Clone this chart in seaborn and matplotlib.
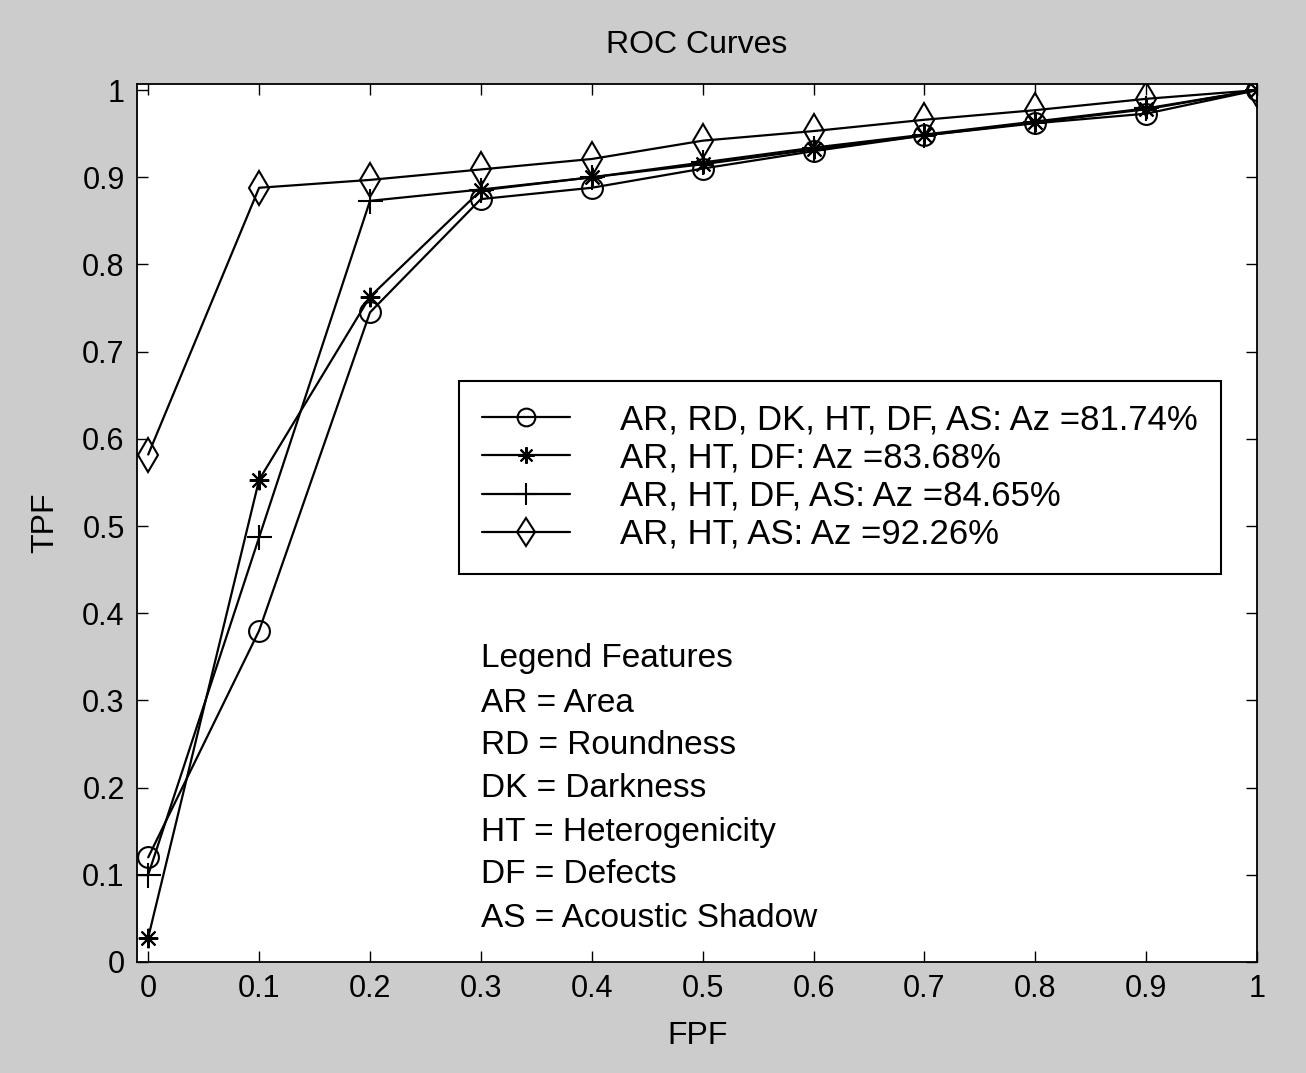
import numpy as np
import pandas as pd
import matplotlib
matplotlib.use('Agg')
import matplotlib.pyplot as plt
import seaborn as sns

# data
fpf = [0, 0.1, 0.2, 0.3, 0.4, 0.5, 0.6, 0.7, 0.8, 0.9, 1.0]
tpf_all = [0.12, 0.38, 0.745, 0.875, 0.888, 0.91, 0.93, 0.948, 0.962, 0.973, 1.0]
tpf_ar_ht_df = [0.028, 0.553, 0.763, 0.885, 0.9, 0.915, 0.932, 0.948, 0.963, 0.978, 1.0]
tpf_ar_ht_df_as = [0.1, 0.487, 0.873, 0.886, 0.9, 0.917, 0.934, 0.949, 0.964, 0.979, 1.0]
tpf_ar_ht_as = [0.582, 0.888, 0.897, 0.909, 0.921, 0.942, 0.953, 0.966, 0.977, 0.99, 1.0]

labels = ['AR, RD, DK, HT, DF, AS: Az =81.74%',
          'AR, HT, DF: Az =83.68%',
          'AR, HT, DF, AS: Az =84.65%',
          'AR, HT, AS: Az =92.26%']
markers = ['o', (8, 2, 0), '+', 'd']
marker_sizes = [15, 14, 18, 17]

features = ['Legend Features', 'AR = Area', 'RD = Roundness', 'DK = Darkness',
            'HT = Heterogenicity', 'DF = Defects', 'AS = Acoustic Shadow']
feature_y = [0.348, 0.297, 0.248, 0.199, 0.149, 0.100, 0.050]

sns.set_style('ticks')
plt.rcParams['font.family'] = ['Liberation Sans', 'DejaVu Sans']
plt.rcParams['text.color'] = 'black'
plt.rcParams['axes.labelcolor'] = 'black'
plt.rcParams['xtick.color'] = 'black'
plt.rcParams['ytick.color'] = 'black'
plt.rcParams['xtick.direction'] = 'in'
plt.rcParams['ytick.direction'] = 'in'

fig = plt.figure(figsize=(13.06, 10.73), dpi=100, facecolor='#cccccc')
ax = fig.add_axes([0.105, 0.1035, 0.8575, 0.8182])
ax.set_facecolor('white')

series = [tpf_all, tpf_ar_ht_df, tpf_ar_ht_df_as, tpf_ar_ht_as]
for tpf, lab, mk, ms in zip(series, labels, markers, marker_sizes):
    df = pd.DataFrame({'FPF': fpf, 'TPF': tpf})
    sns.lineplot(data=df, x='FPF', y='TPF', ax=ax, color='black', linewidth=1.6,
                 marker=mk, markersize=ms, markerfacecolor='none',
                 markeredgecolor='black', markeredgewidth=1.5, label=lab)

ax.set_xlim(-0.01, 1.0)
ax.set_ylim(0, 1.007)
ticks = np.round(np.arange(0, 1.01, 0.1), 1)
ticklabels = ['0'] + ['%g' % t for t in ticks[1:-1]] + ['1']
ax.set_xticks(ticks)
ax.set_xticklabels(ticklabels)
ax.set_yticks(ticks)
ax.set_yticklabels(ticklabels)
ax.tick_params(axis='both', which='both', labelsize=22, length=8, width=1.0,
               top=True, right=True, color='black', pad=9)
for sp in ax.spines.values():
    sp.set_visible(True)
    sp.set_color('black')
    sp.set_linewidth(1.3)

ax.set_xlabel('FPF', fontsize=23, labelpad=12)
ax.set_ylabel('TPF', fontsize=23, labelpad=16)
ax.set_title('ROC Curves', fontsize=23, pad=22)

leg = ax.legend(loc='upper left', bbox_to_anchor=(0.2875, 0.662), fontsize=25,
                frameon=True, fancybox=False, edgecolor='black', framealpha=1,
                handlelength=2.54, handletextpad=1.45, borderpad=0.65,
                labelspacing=0.15, borderaxespad=0, markerscale=0.85)
leg.get_frame().set_linewidth(1.5)

for txt, y in zip(features, feature_y):
    ax.text(0.30, y, txt, fontsize=24, va='center', ha='left')

fig.savefig('out.png', dpi=100, facecolor=fig.get_facecolor())
